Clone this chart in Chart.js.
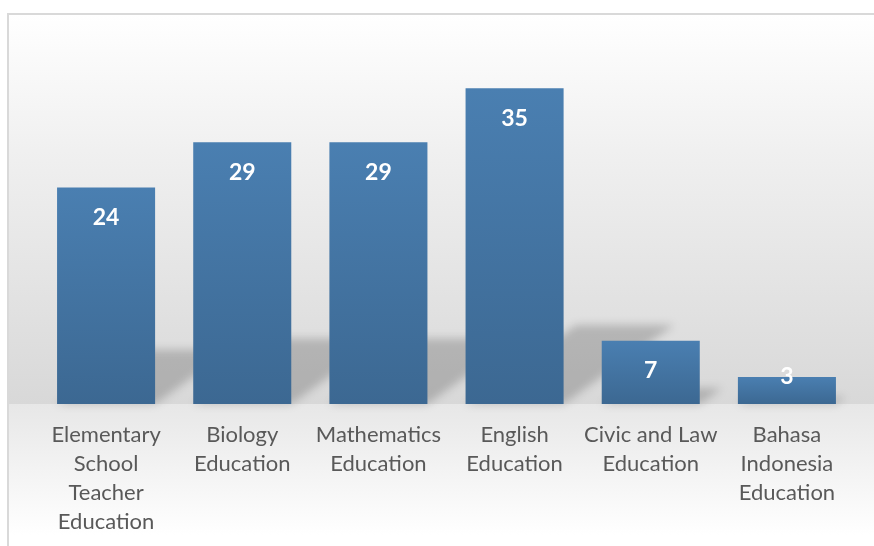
<!DOCTYPE html>
<html>
<head>
<meta charset="utf-8">
<script src="https://cdn.jsdelivr.net/npm/chart.js@4"></script>
<style>
    html, body { margin: 0; padding: 0; background: #ffffff; }
    #contenedor { position: relative; width: 874px; height: 546px; }
</style>
</head>
<body>
<div id="contenedor">
    <canvas id="grafico-programas" width="874" height="546"></canvas>
</div>
<script>
// Datos del gráfico
const programas = [
    ['Elementary', 'School', 'Teacher', 'Education'],
    ['Biology', 'Education'],
    ['Mathematics', 'Education'],
    ['English', 'Education'],
    ['Civic and Law', 'Education'],
    ['Bahasa', 'Indonesia', 'Education']
];
const estudiantes = [24, 29, 29, 35, 7, 3];

const colorTexto = '#595959';
const fuente = 'Lato, "Open Sans", sans-serif';

// Fondo con degradado y borde (pared + suelo)
const fondoPlugin = {
    id: 'fondo',
    beforeDraw(chart) {
        const ctx = chart.ctx;
        const base = chart.scales.y.getPixelForValue(0);
        ctx.save();
        let g = ctx.createLinearGradient(0, 14, 0, base);
        g.addColorStop(0, '#ffffff');
        g.addColorStop(0.35, '#f0f0f0');
        g.addColorStop(1, '#d8d8d8');
        ctx.fillStyle = g;
        ctx.fillRect(8, 14, chart.width, base - 14);
        g = ctx.createLinearGradient(0, base, 0, 535);
        g.addColorStop(0, '#e7e7e7');
        g.addColorStop(1, '#ffffff');
        ctx.fillStyle = g;
        ctx.fillRect(8, base, chart.width, chart.height - base);
        ctx.fillStyle = '#d9d9d9';
        ctx.fillRect(7, 13, chart.width, 2);
        ctx.fillRect(7, 13, 2, chart.height);
        ctx.restore();
    }
};

// Sombras en perspectiva detrás de cada barra
const sombraPlugin = {
    id: 'sombra',
    beforeDatasetsDraw(chart) {
        const ctx = chart.ctx;
        const meta = chart.getDatasetMeta(0);
        ctx.save();
        ctx.filter = 'blur(4px)';
        ctx.fillStyle = 'rgba(0,0,0,0.19)';
        meta.data.forEach(bar => {
            const h = bar.base - bar.y;
            const izq = bar.x - bar.width / 2;
            const der = bar.x + bar.width / 2;
            const sh = h * 0.25;
            const dx = h * 0.35;
            ctx.beginPath();
            ctx.moveTo(izq, bar.base);
            ctx.lineTo(der, bar.base);
            ctx.lineTo(der + dx, bar.base - sh);
            ctx.lineTo(izq + dx, bar.base - sh);
            ctx.closePath();
            ctx.fill();
        });
        ctx.restore();
    }
};

// Etiquetas de valores dentro de las barras
const etiquetasPlugin = {
    id: 'etiquetas',
    afterDatasetsDraw(chart) {
        const ctx = chart.ctx;
        const meta = chart.getDatasetMeta(0);
        ctx.save();
        ctx.font = 'bold 23px ' + fuente;
        ctx.fillStyle = '#ffffff';
        ctx.textAlign = 'center';
        ctx.textBaseline = 'middle';
        meta.data.forEach((bar, i) => {
            const y = Math.min(bar.y + 30, bar.base - 27);
            ctx.fillText(String(estudiantes[i]), bar.x, y);
        });
        ctx.restore();
    }
};

const ctx = document.getElementById('grafico-programas').getContext('2d');
new Chart(ctx, {
    type: 'bar',
    data: {
        labels: programas,
        datasets: [{
            data: estudiantes,
            backgroundColor: (c) => {
                const chart = c.chart;
                if (!chart.chartArea || c.raw === undefined) return '#467aab';
                const y = chart.scales.y;
                const top = y.getPixelForValue(c.raw);
                const base = y.getPixelForValue(0);
                const g = chart.ctx.createLinearGradient(0, top, 0, base);
                g.addColorStop(0, '#4a7fb1');
                g.addColorStop(1, '#3c6892');
                return g;
            },
            borderWidth: 0,
            barPercentage: 0.72,
            categoryPercentage: 1
        }]
    },
    options: {
        responsive: false,
        animation: false,
        layout: { padding: { left: 38, right: 19, top: 43, bottom: 0 } },
        plugins: {
            legend: { display: false },
            tooltip: { enabled: false }
        },
        scales: {
            x: {
                grid: { display: false },
                border: { display: false },
                afterFit: (s) => { s.height = 142; },
                ticks: {
                    color: colorTexto,
                    font: { family: fuente, size: 22, lineHeight: 1.32 },
                    maxRotation: 0,
                    autoSkip: false,
                    padding: 8
                }
            },
            y: {
                display: false,
                min: 0,
                max: 40
            }
        }
    },
    plugins: [fondoPlugin, sombraPlugin, etiquetasPlugin]
});
</script>
</body>
</html>
